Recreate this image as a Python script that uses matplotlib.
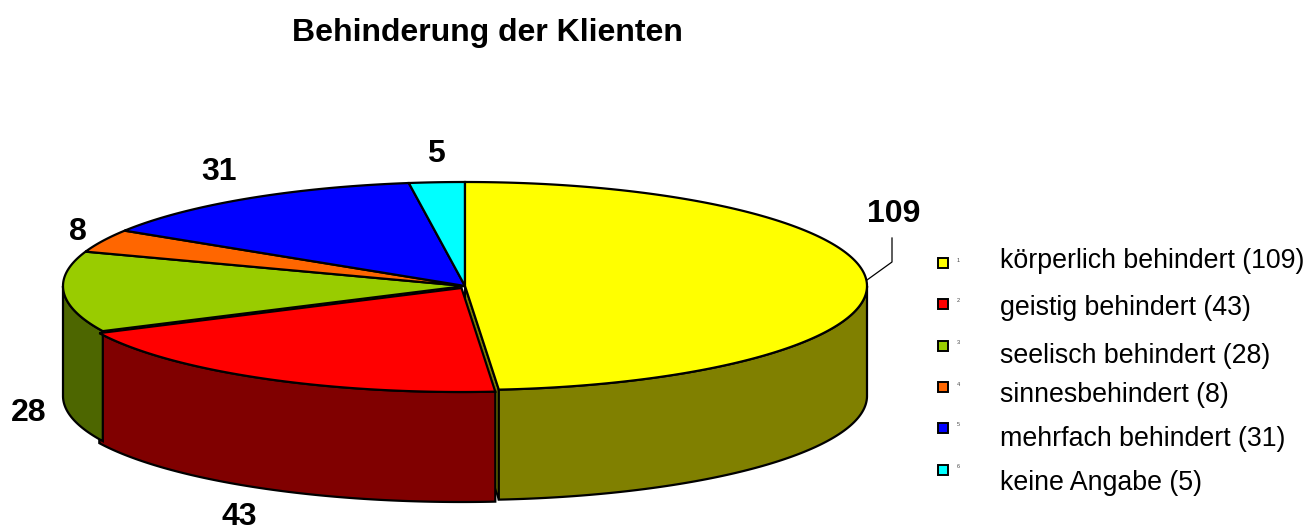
import numpy as np
import matplotlib
matplotlib.use("Agg")
import matplotlib.pyplot as plt
from matplotlib.patches import Polygon

plt.rcParams['font.family'] = ['Liberation Sans', 'DejaVu Sans']

title = "Behinderung der Klienten"
categories = ["körperlich behindert", "geistig behindert", "seelisch behindert",
              "sinnesbehindert", "mehrfach behindert", "keine Angabe"]
values = [109, 43, 28, 8, 31, 5]
top_colors = ["#FFFF00", "#FF0000", "#99CC00", "#FF6600", "#0000FF", "#00FFFF"]
side_colors = ["#808000", "#800000", "#4D6600", "#803300", "#000080", "#008080"]

# pie geometry, in pixels
CX, CY = 465, 286
RX, RY = 402, 104
DEPTH = 110
# the red slice sits a little out of the pie
offsets = [(0, 0), (-3.5, 2), (0, 0), (0, 0), (0, 0), (0, 0)]

# baselines of the value labels
label_pos = [(894, 222), (239, 525), (29, 421), (78, 240), (219, 180), (436, 162)]
legend_text_y = [261, 308, 356, 395, 439, 483]
legend_box_y = [263, 304, 346, 387, 428, 470]


def rim(a0, a1, dx=0, dy=0):
    # angles in degrees clockwise from the top of the pie
    t = np.radians(np.linspace(a0, a1, 200))
    return np.column_stack([CX + dx + RX * np.sin(t), CY + dy - RY * np.cos(t)])


fig = plt.figure(figsize=(13.1, 5.32), dpi=100)
ax = fig.add_axes([0, 0, 1, 1])
ax.set_xlim(0, 1310)
ax.set_ylim(532, 0)
ax.axis('off')

edges = np.cumsum([0] + values) / sum(values) * 360

# outer walls first
for i in range(len(values)):
    a0, a1 = edges[i], edges[i + 1]
    lo, hi = max(a0, 90), min(a1, 270)
    if lo >= hi:
        continue
    dx, dy = offsets[i]
    r = rim(lo, hi, dx, dy)
    wall = np.vstack([r, (r + [0, DEPTH])[::-1]])
    ax.add_patch(Polygon(wall, closed=True, fc=side_colors[i], ec='black', lw=1.6, zorder=2))

# inner wall of the yellow slice shows next to the red one
end = rim(edges[1], edges[1])[0]
inner = np.array([[CX, CY], end, end + [0, DEPTH], [CX, CY + DEPTH]])
ax.add_patch(Polygon(inner, closed=True, fc=side_colors[0], ec='black', lw=1.4, zorder=1))

# tops
for i in [2, 3, 4, 5, 0, 1]:
    dx, dy = offsets[i]
    r = rim(edges[i], edges[i + 1], dx, dy)
    top = np.vstack([[CX + dx, CY + dy], r])
    ax.add_patch(Polygon(top, closed=True, fc=top_colors[i], ec='black', lw=1.6, zorder=3))

ax.text(487, 33, title, fontsize=23, fontweight='bold', ha='center', va='center')

for v, (x, y) in zip(values, label_pos):
    ax.text(x, y, str(v), fontsize=23, fontweight='bold', ha='center', va='baseline')

# leader line for the first label
ax.plot([867, 892, 892], [280, 262, 238], color='black', lw=0.9, zorder=1)

# legend
for i, name in enumerate(categories):
    ax.plot(943, legend_box_y[i], marker='s', ms=7.5, mfc=top_colors[i], mec='black', mew=1.4, zorder=4)
    ax.text(957, legend_box_y[i] - 3, str(i + 1), fontsize=4, color='#444444', ha='left', va='center')
    ax.text(1000, legend_text_y[i], f"{name} ({values[i]})", fontsize=19.3, ha='left', va='center')

fig.savefig("out.png", dpi=100)
